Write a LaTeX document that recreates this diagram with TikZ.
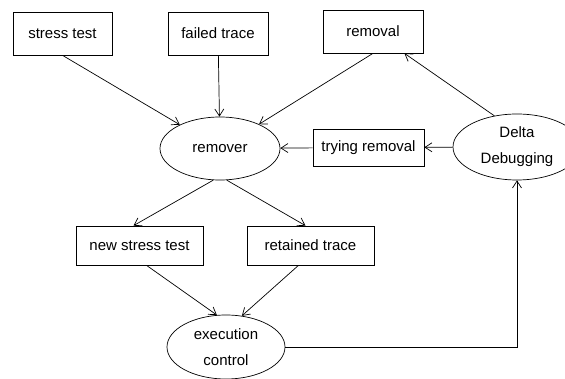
\documentclass[tikz,border=0pt]{standalone}
\usepackage{fontspec}
\setmainfont{Liberation Sans}
\usetikzlibrary{arrows.meta,shapes.geometric}

\begin{document}
\begin{tikzpicture}[x=1pt,y=-1pt,>={Straight Barb[length=7pt,width=9pt]},
  every node/.style={font=\fontsize{15}{26}\selectfont}]
\tikzstyle{box}=[draw,rectangle,inner sep=0pt,line width=0.7pt,minimum height=43pt]
\tikzstyle{oval}=[draw,ellipse,inner sep=0pt,line width=0.7pt,align=center]
\useasboundingbox (0,0) rectangle (565,379);
\node [box,minimum width=99pt] (st) at (62.5,33.5) {stress test};
\node [box,minimum width=100pt] (ft) at (218,33.5) {failed trace};
\node [box,minimum width=100pt] (rm) at (373,31.5) {removal};
\node [oval,minimum width=120pt,minimum height=63pt] (rem) at (220,148.5) {remover};
\node [box,minimum width=111pt,minimum height=37pt] (tr) at (368.5,147.5) {trying removal};
\node [oval,minimum width=128pt,minimum height=66pt] (dd) at (517,147) {Delta\\Debugging};
\node [box,minimum width=127pt,minimum height=39pt] (nst) at (139.5,245.5) {new stress test};
\node [box,minimum width=127pt,minimum height=39pt] (rt) at (310.5,245.5) {retained trace};
\node [oval,minimum width=118pt,minimum height=64pt] (ex) at (226,347) {execution\\control};
\coordinate (bend) at (517,347);
\path[->,line width=0.7pt]
    (st.south) edge (rem)
    (ft) edge (rem)
    (rm.south) edge (rem)
    (dd.126) edge (rm)
    (dd) edge (tr)
    (tr) edge (rem)
    (rem.-102) edge ([xshift=-6pt]nst.north)
    (rem.-78) edge ([xshift=-5pt]rt.north)
    ([xshift=7pt]nst.south) edge (ex.106)
    ([xshift=-12pt]rt.south) edge (ex.63);
\draw[->,line width=0.7pt] (ex.east) -- (bend) -- (dd.south);
\end{tikzpicture}
\end{document}
